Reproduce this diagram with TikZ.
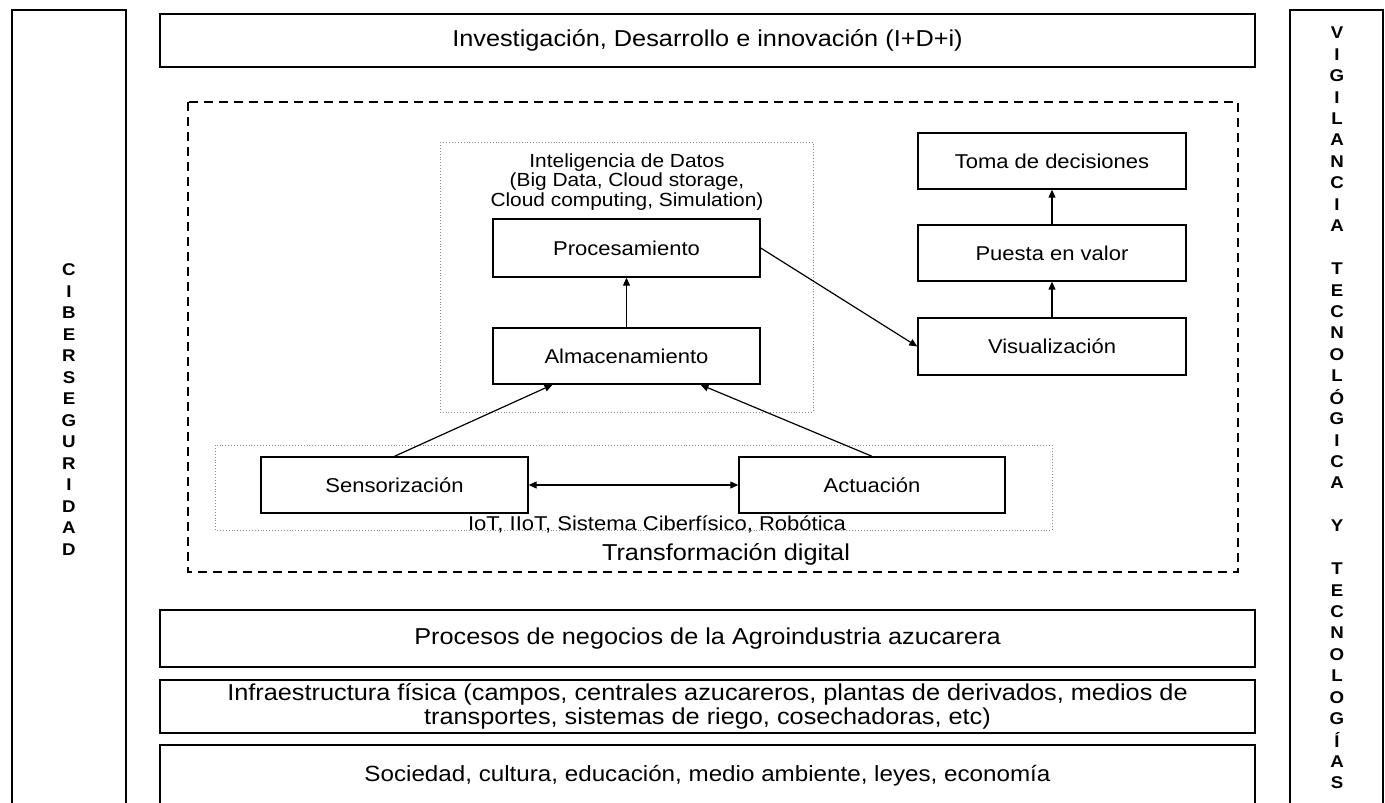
\documentclass[tikz,border=0pt]{standalone}
\usepackage{fontspec}
\setmainfont{Liberation Sans}[FakeStretch=1.1]
\usetikzlibrary{arrows.meta,positioning}

\tikzset{
  bigbox/.style={draw, line width=2pt, inner sep=0pt, align=center,
    font=\fontsize{23}{24}\selectfont},
  smallbox/.style={draw, line width=1.4pt, inner sep=0pt, align=center,
    font=\fontsize{20}{22}\selectfont},
  zone/.style={draw=black!45, line width=0.9pt, dotted},
  arr/.style={line width=1.2pt, -{Triangle[length=8pt,width=7pt]}},
  letter/.style={inner sep=0pt, font=\fontsize{17}{17}\selectfont\bfseries}
}

\begin{document}
\begin{tikzpicture}[x=1pt,y=-1pt]
    \useasboundingbox (0,0) rectangle (1385,803);
    \fill[white] (0,0) rectangle (1385,803);

    % side columns (cut by the lower border)
    \def\ls{21.5}
    \def\rs{21.43}
    \draw[line width=2.2pt] (12,803) -- (12,10) -- (126,10) -- (126,803);
    \draw[line width=2.2pt] (1290,803) -- (1290,10) -- (1383,10) -- (1383,803);
    \foreach \l [count=\i] in {C,I,B,E,R,S,E,G,U,R,I,D,A,D} {
      \pgfmathsetmacro{\yy}{270+(\i-1)*\ls}
      \node[letter] (cib\i) at (69,\yy) {\l};
    }
    \foreach \l [count=\i] in {V,I,G,I,L,A,N,C,I,A,{},T,E,C,N,O,L,Ó,G,I,C,A,{},Y,{},T,E,C,N,O,L,O,G,Í,A,S} {
      \pgfmathsetmacro{\yy}{33+(\i-1)*\rs}
      \node[letter] (vig\i) at (1337,\yy) {\l};
    }

    % top layer
    \node[bigbox, minimum width=1095pt, minimum height=53pt] (idi) at (707.5,40.5)
      {Investigación, Desarrollo e innovación (I+D+i)};

    % digital transformation
    \draw[line width=1.4pt, dash pattern=on 9pt off 6pt] (188,102) rectangle (1238,572);
    \node[font=\fontsize{23}{24}\selectfont] (td) at (726,554) {Transformación digital};

    % data intelligence zone
    \draw[zone] (440,142) rectangle (813,412);
    \node[align=center, font=\fontsize{19}{19.5}\selectfont] (intel) at (627,182)
      {Inteligencia de Datos\\(Big Data, Cloud storage,\\Cloud computing, Simulation)};
    \node[smallbox, minimum width=267pt, minimum height=58pt] (proc) at (626.5,248) {Procesamiento};
    \node[smallbox, minimum width=267pt, minimum height=56pt] (alm) at (626.5,356) {Almacenamiento};

    % value chain
    \node[smallbox, minimum width=268pt, minimum height=56pt] (toma) at (1052,161) {Toma de decisiones};
    \node[smallbox, minimum width=268pt, minimum height=56pt] (valor) at (1052,253) {Puesta en valor};
    \node[smallbox, minimum width=268pt, minimum height=57pt] (vis) at (1052,346.5) {Visualización};

    % IoT zone
    \draw[zone] (215,445) rectangle (1052,530);
    \node[smallbox, minimum width=267pt, minimum height=56pt] (sens) at (394.5,485) {Sensorización};
    \node[smallbox, minimum width=266pt, minimum height=56pt] (act) at (872,485) {Actuación};
    \node[anchor=base, inner sep=0pt, font=\fontsize{20}{22}\selectfont] (iot) at (657,530)
      {IoT, IIoT, Sistema Ciberfísico, Robótica};

    % connectors
    \draw[arr] (alm) -- (proc);
    \draw[arr] (sens.north) -- ([xshift=-74pt]alm.south);
    \draw[arr] (act.north) -- ([xshift=74pt]alm.south);
    \draw[arr] (proc.east) -- (vis.west);
    \draw[arr] (vis) -- (valor);
    \draw[arr] (valor) -- (toma);
    \draw[arr, {Triangle[length=8pt,width=7pt]}-{Triangle[length=8pt,width=7pt]}] (sens) -- (act);

    % lower layers
    \node[bigbox, minimum width=1095pt, minimum height=57pt] (neg) at (707.5,638.5)
      {Procesos de negocios de la Agroindustria azucarera};
    \node[bigbox, minimum width=1095pt, minimum height=53pt] (infra) at (707.5,706.5)
      {Infraestructura física (campos, centrales azucareros, plantas de derivados, medios de\\transportes, sistemas de riego, cosechadoras, etc)};
    \draw[line width=2pt] (160,803) -- (160,745) -- (1255,745) -- (1255,803);
    \node[font=\fontsize{22}{24}\selectfont] (soc) at (707.5,776)
      {Sociedad, cultura, educación, medio ambiente, leyes, economía};
\end{tikzpicture}
\end{document}
